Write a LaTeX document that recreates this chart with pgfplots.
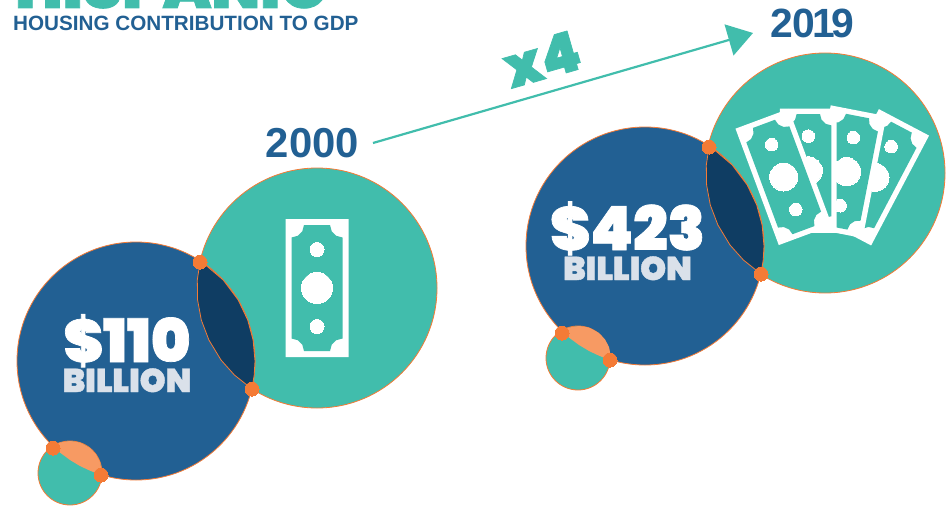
\documentclass[border=0pt]{standalone}
\usepackage{pgfplots}
\pgfplotsset{compat=1.18}
\usepackage{pgfplotstable}
\usepackage{fontspec}
\usetikzlibrary{arrows.meta}
\setmainfont{Liberation Sans}
\newfontfamily\blk{Poppins}[UprightFont=* Black,FakeBold=1.2]

\definecolor{teal1}{HTML}{41BDAC}
\definecolor{blue1}{HTML}{226093}
\definecolor{navy1}{HTML}{0F3D63}
\definecolor{orange1}{HTML}{F47B36}
\definecolor{peach1}{HTML}{F79A63}
\definecolor{pale1}{HTML}{DAE1EA}

% lens between the big circles, left group
\pgfplotstableread{
x y
200 262
202 262
223.2 280
238.2 300
247.7 320
253.1 340
255 361
254.2 375
252 389
234.4 375
221 360
208.9 340
201.3 320
197.6 300
197.3 280
200 262
}\lens
% lens between blue and small circle
\pgfplotstableread{
x y
53 446
60 442.6
70 441
80 442.6
90 448
96 454.5
100 462
102 473
101 475
90 470.7
80 466
70 460
60 452.6
53 446
}\lenssmall
% bill, centred, unrotated
\pgfplotstableread{
x y
-31.5 -69
31.5 -69
31.5 69
-31.5 69
-31.5 -69
}\billouter
\pgfplotstableread{
x y
-13 -63
13 -63
14.7 -56.75
19.25 -52.2
25.5 -50.5
25.5 50.5
19.25 52.2
14.7 56.75
13 63
-13 63
-14.7 56.75
-19.25 52.2
-25.5 50.5
-25.5 -50.5
-19.25 -52.2
-14.7 -56.75
-13 -63
}\billinner
\pgfplotstableread{
x y
0 -38.5
0 38.5
}\billdots

% #1 cx, #2 cy, #3 angle, #4 scale, #5 big radius, #6 small radius
\newcommand{\bill}[6]{
  \addplot[fill=white,draw=none] table[x expr={#1+#4*(\thisrow{x}*cos(#3)-\thisrow{y}*sin(#3))},y expr={#2+#4*(\thisrow{x}*sin(#3)+\thisrow{y}*cos(#3))}] {\billouter};
  \addplot[fill=teal1,draw=none] table[x expr={#1+#4*(\thisrow{x}*cos(#3)-\thisrow{y}*sin(#3))},y expr={#2+#4*(\thisrow{x}*sin(#3)+\thisrow{y}*cos(#3))}] {\billinner};
  \addplot[only marks,mark=*,mark size=#5bp,mark options={fill=white,draw=white,line width=0pt}] coordinates {(#1,#2)};
  \addplot[only marks,mark=*,mark size=#6bp,mark options={fill=white,draw=white,line width=0pt}] table[x expr={#1+#4*(\thisrow{x}*cos(#3)-\thisrow{y}*sin(#3))},y expr={#2+#4*(\thisrow{x}*sin(#3)+\thisrow{y}*cos(#3))}] {\billdots};
}
% one big/small circle
\newcommand{\disc}[4]{
  \addplot[only marks,mark=*,mark size=#3bp,mark options={fill=#4,draw=orange1,line width=0.8bp}] coordinates {(#1,#2)};
}

\begin{document}
\begin{tikzpicture}
\begin{axis}[
  name=a,
  hide axis,
  scale only axis,
  width=951bp,
  height=506bp,
  xmin=0,xmax=951,
  ymin=0,ymax=506,
  y dir=reverse,
  clip=false,
  clip marker paths=true,
]
% left group
\disc{317}{288}{120}{teal1}
\disc{136}{361}{119}{blue1}
\disc{70}{473}{32}{teal1}
\addplot[fill=navy1,draw=orange1,line width=0.8bp] table {\lens};
\addplot[fill=peach1,draw=none] table {\lenssmall};
\addplot[only marks,mark=*,mark size=7bp,mark options={fill=orange1,draw=orange1,line width=0pt}] coordinates {(200,262) (252,389) (53,448) (101,475)};
\bill{317}{288}{0}{1}{15.5}{7}
% right group
\disc{825}{173}{120}{teal1}
\disc{645}{246}{119}{blue1}
\disc{578}{358}{32}{teal1}
\addplot[fill=navy1,draw=orange1,line width=0.8bp] table[x expr=\thisrow{x}+509,y expr=\thisrow{y}-115] {\lens};
\addplot[fill=peach1,draw=none] table[x expr=\thisrow{x}+509,y expr=\thisrow{y}-115] {\lenssmall};
\addplot[only marks,mark=*,mark size=7bp,mark options={fill=orange1,draw=orange1,line width=0pt}] coordinates {(709,147) (761,274) (562,333) (610,360)};
\bill{875}{177.3}{27.8}{0.9}{14}{6.3}
\bill{846.7}{171.7}{11}{0.9}{14}{6.3}
\bill{808.3}{170.8}{0}{0.9}{14}{6.3}
\bill{783.7}{177}{-20.4}{0.9}{14}{6.3}
% arrow
\addplot[teal1,line width=2.2bp,-{Triangle[length=25bp,width=32bp]}] coordinates {(373,143) (753,33)};
% text
\node[anchor=base west,text=teal1,font=\blk\fontsize{63}{63}\selectfont,inner sep=0pt] at (axis cs:15,8) {HISPANIC};
\node[anchor=base west,text=blue1,font=\bfseries\fontsize{20.75}{21}\selectfont,inner sep=0pt] at (axis cs:13,31) {HOUSING CONTRIBUTION TO GDP};
\node[anchor=base,text=blue1,font=\bfseries\fontsize{42}{42}\selectfont,inner sep=0pt] at (axis cs:312.5,157) {2000};
\node[anchor=base,text=blue1,font=\bfseries\fontsize{41}{41}\selectfont,inner sep=0pt] at (axis cs:812.5,37.5) {2\kern-0.5bp 0\kern-3bp 1\kern-3bp 9};
\node[text=teal1,font=\blk\fontsize{56}{56}\selectfont,inner sep=0pt,rotate=16] at (axis cs:542,59) {x4};
\node[anchor=base,text=white,font=\blk\fontsize{60}{60}\selectfont,inner sep=0pt] at (axis cs:127,362) {\$110};
\node[anchor=base,text=pale1,font=\blk\fontsize{33}{33}\selectfont,inner sep=0pt] at (axis cs:127,392) {BILLION};
\node[anchor=base,text=white,font=\blk\fontsize{61}{61}\selectfont,inner sep=0pt] at (axis cs:627.5,250) {\$423};
\node[anchor=base,text=pale1,font=\blk\fontsize{33}{33}\selectfont,inner sep=0pt] at (axis cs:627.5,280) {BILLION};
\end{axis}
\pgfresetboundingbox
\path (a.south west) rectangle (a.north east);
\end{tikzpicture}
\end{document}
